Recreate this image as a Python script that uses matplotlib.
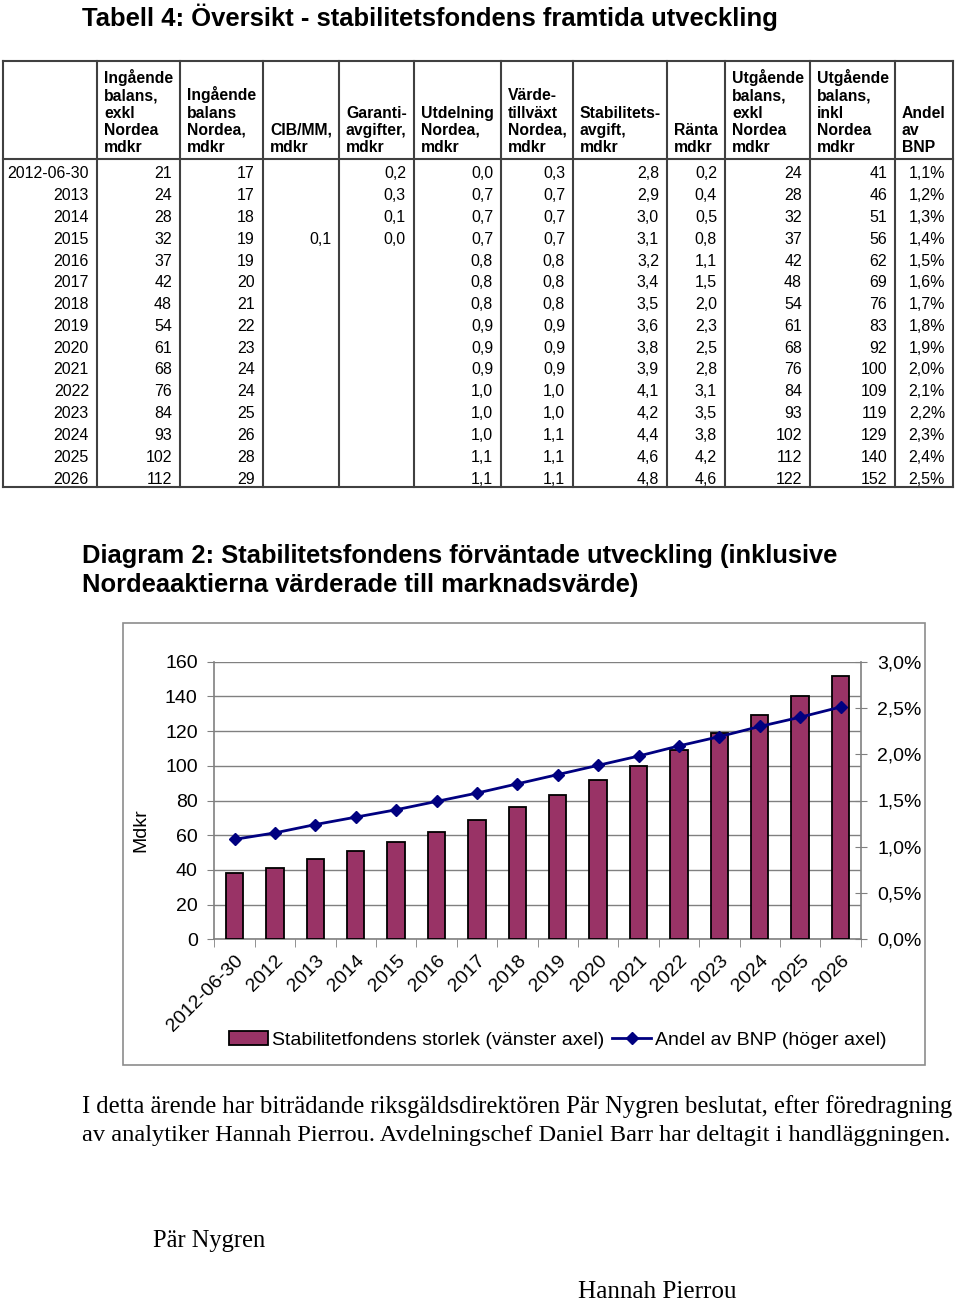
import matplotlib
matplotlib.use("Agg")
import matplotlib.pyplot as plt
from matplotlib.patches import Rectangle
from matplotlib.lines import Line2D
import numpy as np

# ---------------- data ----------------
row_labels = ["2012-06-30", "2013", "2014", "2015", "2016", "2017", "2018", "2019",
              "2020", "2021", "2022", "2023", "2024", "2025", "2026"]
ing_exkl = [21, 24, 28, 32, 37, 42, 48, 54, 61, 68, 76, 84, 93, 102, 112]
ing_nordea = [17, 17, 18, 19, 19, 20, 21, 22, 23, 24, 24, 25, 26, 28, 29]
cib_mm = [None, None, None, 0.1] + [None] * 11
garanti = [0.2, 0.3, 0.1, 0.0] + [None] * 11
utdelning = [0.0, 0.7, 0.7, 0.7, 0.8, 0.8, 0.8, 0.9, 0.9, 0.9, 1.0, 1.0, 1.0, 1.1, 1.1]
vardetillvaxt = [0.3, 0.7, 0.7, 0.7, 0.8, 0.8, 0.8, 0.9, 0.9, 0.9, 1.0, 1.0, 1.1, 1.1, 1.1]
stab_avgift = [2.8, 2.9, 3.0, 3.1, 3.2, 3.4, 3.5, 3.6, 3.8, 3.9, 4.1, 4.2, 4.4, 4.6, 4.8]
ranta = [0.2, 0.4, 0.5, 0.8, 1.1, 1.5, 2.0, 2.3, 2.5, 2.8, 3.1, 3.5, 3.8, 4.2, 4.6]
utg_exkl = [24, 28, 32, 37, 42, 48, 54, 61, 68, 76, 84, 93, 102, 112, 122]
utg_inkl = [41, 46, 51, 56, 62, 69, 76, 83, 92, 100, 109, 119, 129, 140, 152]
andel_bnp = [1.1, 1.2, 1.3, 1.4, 1.5, 1.6, 1.7, 1.8, 1.9, 2.0, 2.1, 2.2, 2.3, 2.4, 2.5]

header_labels = [
    [],
    ["Ingående", "balans,", "exkl", "Nordea", "mdkr"],
    ["Ingående", "balans", "Nordea,", "mdkr"],
    ["CIB/MM,", "mdkr"],
    ["Garanti-", "avgifter,", "mdkr"],
    ["Utdelning", "Nordea,", "mdkr"],
    ["Värde-", "tillväxt", "Nordea,", "mdkr"],
    ["Stabilitets-", "avgift,", "mdkr"],
    ["Ränta", "mdkr"],
    ["Utgående", "balans,", "exkl", "Nordea", "mdkr"],
    ["Utgående", "balans,", "inkl", "Nordea", "mdkr"],
    ["Andel", "av", "BNP"],
]

chart_categories = ["2012-06-30", "2012", "2013", "2014", "2015", "2016", "2017", "2018",
                    "2019", "2020", "2021", "2022", "2023", "2024", "2025", "2026"]
fund_size = [38, 41, 46, 51, 56, 62, 69, 76, 83, 92, 100, 109, 119, 129, 140, 152]
gdp_share = [1.08, 1.15, 1.24, 1.32, 1.40, 1.49, 1.58, 1.68, 1.78, 1.88, 1.98, 2.09,
             2.19, 2.30, 2.40, 2.51]
left_ticks = [0, 20, 40, 60, 80, 100, 120, 140, 160]
right_ticks = [0.0, 0.5, 1.0, 1.5, 2.0, 2.5, 3.0]

title_table = "Tabell 4: Översikt - stabilitetsfondens framtida utveckling"
title_chart = ["Diagram 2: Stabilitetsfondens förväntade utveckling (inklusive",
               "Nordeaaktierna värderade till marknadsvärde)"]
legend_labels = ["Stabilitetfondens storlek (vänster axel)", "Andel av BNP (höger axel)"]
ylabel_left = "Mdkr"
paragraph = ["I detta ärende har biträdande riksgäldsdirektören Pär Nygren beslutat, efter föredragning",
             "av analytiker Hannah Pierrou. Avdelningschef Daniel Barr har deltagit i handläggningen."]
sign1 = "Pär Nygren"
sign2 = "Hannah Pierrou"


def fmt_dec(v):
    return "" if v is None else f"{v:.1f}".replace(".", ",")


def fmt_pct(v):
    return f"{v:.1f}%".replace(".", ",")


# ---------------- figure ----------------
W, H = 960, 1304
fig = plt.figure(figsize=(W / 100, H / 100), dpi=100)
fig.patch.set_facecolor("white")
SANS = ["Liberation Sans", "DejaVu Sans"]
SERIF = ["Liberation Serif", "DejaVu Serif"]

page = fig.add_axes([0, 0, 1, 1])
page.set_xlim(0, W)
page.set_ylim(H, 0)
page.axis("off")

renderer = fig.canvas.get_renderer()


def fit(t, width):
    bb = t.get_window_extent(renderer)
    t.set_fontsize(t.get_fontsize() * width / bb.width)
    return t.get_fontsize()


# title
t = page.text(82, 17, title_table, fontsize=17, fontweight="bold", family=SANS,
              va="center", ha="left")
fit(t, 696)

# ---------------- table ----------------
col_edges = [3, 97, 180, 263, 339, 414, 501, 573, 667, 725, 810, 895, 953]
tab_top, head_bot, tab_bot = 61, 159, 487
lc = "#404040"
for xe in col_edges:
    page.plot([xe, xe], [tab_top, tab_bot], color=lc, lw=1.5, solid_capstyle="projecting")
for ye in [tab_top, head_bot, tab_bot]:
    page.plot([col_edges[0], col_edges[-1]], [ye, ye], color=lc, lw=1.5,
              solid_capstyle="projecting")

hfs = 11.3
for ci, lines in enumerate(header_labels):
    n = len(lines)
    for li, s in enumerate(lines):
        yb = 152 - 17.2 * (n - 1 - li)
        page.text(col_edges[ci] + 7, yb, s, fontsize=hfs, fontweight="bold", family=SANS,
                  ha="left", va="baseline")

columns = [
    row_labels,
    [str(v) for v in ing_exkl],
    [str(v) for v in ing_nordea],
    [fmt_dec(v) for v in cib_mm],
    [fmt_dec(v) for v in garanti],
    [fmt_dec(v) for v in utdelning],
    [fmt_dec(v) for v in vardetillvaxt],
    [fmt_dec(v) for v in stab_avgift],
    [fmt_dec(v) for v in ranta],
    [str(v) for v in utg_exkl],
    [str(v) for v in utg_inkl],
    [fmt_pct(v) for v in andel_bnp],
]
bfs = 11.5
for ci, col in enumerate(columns):
    for ri, s in enumerate(col):
        yb = 178.3 + 21.8 * ri
        page.text(col_edges[ci + 1] - 8, yb, s, fontsize=bfs, family=SANS,
                  ha="right", va="baseline")

# ---------------- chart titles ----------------
t1 = page.text(82, 556, title_chart[0], fontsize=17, fontweight="bold", family=SANS,
               va="center", ha="left")
fs_ct = fit(t1, 756)
page.text(82, 585, title_chart[1], fontsize=fs_ct, fontweight="bold", family=SANS,
          va="center", ha="left")

# chart frame
page.add_patch(Rectangle((123, 623), 925 - 123, 1065 - 623, fill=False,
                         edgecolor="#8c8c8c", lw=1.2))

# ---------------- chart ----------------
L, R, T, B = 214.3, 860.7, 661.7, 939.3
ax = fig.add_axes([L / W, 1 - B / H, (R - L) / W, (B - T) / H])
ax.set_zorder(2)
x = np.arange(len(chart_categories))
ax.bar(x, fund_size, width=0.43, color="#993366", edgecolor="black", lw=1.3, zorder=3)
ax.set_xlim(-0.5, len(chart_categories) - 0.5)
ax.set_ylim(0, 160)
ax.set_yticks(left_ticks)
ax.set_yticklabels([str(v) for v in left_ticks], family=SANS, fontsize=14)
ax.yaxis.grid(True, color="#808080", lw=1)
ax.set_axisbelow(True)
for sp in ["top", "right"]:
    ax.spines[sp].set_visible(False)
for sp in ["left", "bottom"]:
    ax.spines[sp].set_color("#808080")
    ax.spines[sp].set_linewidth(1.2)
ax.tick_params(axis="y", direction="out", length=5, color="#808080", pad=7)
ax.set_xticks(x)
ax.set_xticklabels(chart_categories, rotation=45, ha="right", va="top",
                   rotation_mode="anchor", family=SANS, fontsize=14)
ax.tick_params(axis="x", which="major", length=0, pad=9)
ax.set_xticks(np.arange(-0.5, len(chart_categories), 1), minor=True)
ax.tick_params(axis="x", which="minor", direction="out", length=6, color="#808080")

ax2 = ax.twinx()
ax2.plot(x, gdp_share, color="#000080", lw=2, marker="D", ms=6.5, zorder=4)
ax2.set_ylim(0, 3.0)
ax2.set_yticks(right_ticks)
ax2.set_yticklabels([fmt_pct(v) for v in right_ticks], family=SANS, fontsize=14)
ax2.tick_params(axis="y", direction="inout", length=8, color="#808080", pad=8)
for sp in ["top", "left", "bottom"]:
    ax2.spines[sp].set_visible(False)
ax2.spines["right"].set_color("#808080")
ax2.spines["right"].set_linewidth(1.2)

page.text(141, 830, ylabel_left, rotation=90, fontsize=14, family=SANS,
          ha="center", va="center")

handles = [Rectangle((0, 0), 1, 1, facecolor="#993366", edgecolor="black", lw=1.3),
           Line2D([0], [0], color="#000080", lw=2, marker="D", ms=6.5)]
fig.legend(handles, legend_labels, loc="center", bbox_to_anchor=(558 / W, 1 - 1040 / H),
           ncol=2, frameon=False, prop={"family": SANS, "size": 14},
           handlelength=2.0, handletextpad=0.2, columnspacing=0.4, borderpad=0)

# ---------------- paragraph ----------------
p1 = page.text(82, 1107, paragraph[0], fontsize=16, family=SERIF, va="center", ha="left")
fs_p = fit(p1, 872)
p2 = page.text(82, 1136, paragraph[1], fontsize=16, family=SERIF, va="center", ha="left")
fit(p2, 868)
s1 = page.text(153, 1241, sign1, fontsize=fs_p, family=SERIF, va="center", ha="left")
fit(s1, 112)
s2 = page.text(578, 1292, sign2, fontsize=fs_p, family=SERIF, va="center", ha="left")
fit(s2, 158)

fig.savefig("out.png", dpi=100, facecolor="white")
